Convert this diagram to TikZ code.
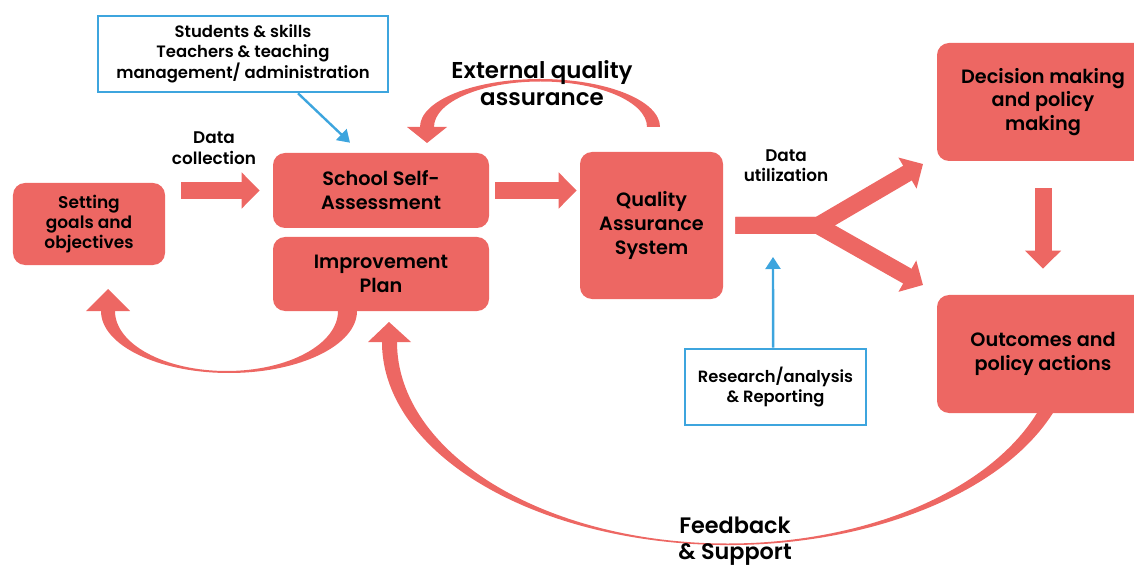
\documentclass[tikz,border=0pt]{standalone}
\usepackage{fontspec}
\setmainfont{Poppins SemiBold}
\usetikzlibrary{arrows.meta}
\definecolor{qared}{HTML}{ED6763}
\definecolor{qablue}{HTML}{3DA5DE}

\begin{document}
\begin{tikzpicture}[x=0.25mm,y=-0.25mm,
    redbox/.style={fill=qared, rounded corners=3mm, align=center, inner sep=0pt,
      font=\fontsize{13.7}{17}\selectfont},
    bluebox/.style={draw=qablue, line width=0.65mm, fill=white, align=center, inner sep=0pt,
      font=\fontsize{11.7}{14.2}\selectfont},
    fatarrow/.style={qared, line width=4.25mm, line join=miter,
      -{Triangle[width=8.75mm,length=4.5mm]}},
    bluearrow/.style={qablue, line width=0.6mm, -{Triangle[width=3.75mm,length=3mm]}},
    lbl/.style={align=center, inner sep=0pt}]
  \useasboundingbox (0,0) rectangle (1134,566);
  \clip (0,0) rectangle (1134,566);
  % curved arrows
  \fill[qared] (660,127) arc[start angle=0, end angle=-180, x radius=120, y radius=48]
    -- (434,127) arc[start angle=-180, end angle=0, x radius=106.5, y radius=45.5] -- cycle;
  \fill[qared] (407,127) -- (447,127) -- (427,143) -- cycle;
  \fill[qared] (357,311) arc[start angle=0, end angle=180, x radius=128, y radius=62]
    -- (115,311) arc[start angle=180, end angle=0, x radius=111.5, y radius=60] -- cycle;
  \fill[qared] (86,311) -- (130,311) -- (108,289) -- cycle;
  \fill[qared] (1052.9,413) arc[start angle=20.47, end angle=180, x radius=346.4, y radius=203]
    -- (397,342) arc[start angle=180, end angle=20.7, x radius=330.6, y radius=201.5] -- cycle;
  \fill[qared] (368,342) -- (411,342) -- (389,322) -- cycle;
  % boxes
  \node[redbox, minimum width=38mm, minimum height=20.5mm, font=\fontsize{12.1}{14.4}\selectfont]
    (goals) at (89,224) {Setting\\goals and\\objectives};
  \node[redbox, minimum width=54mm, minimum height=18.75mm] (ssa) at (381,190.5) {School Self-\\Assessment};
  \node[redbox, minimum width=54mm, minimum height=18.5mm] (plan) at (381,274) {Improvement\\Plan};
  \node[redbox, minimum width=35.75mm, minimum height=36.75mm] (qas) at (651.5,225.5) {Quality\\Assurance\\System};
  \node[redbox, minimum width=53mm, minimum height=29.5mm] (dec) at (1043,102) {Decision making\\and policy\\making};
  \node[redbox, minimum width=53mm, minimum height=29.5mm] (out) at (1043,354) {Outcomes and\\policy actions};
  \node[bluebox, minimum width=72.5mm, minimum height=19mm] (stk) at (243,54)
    {Students \& skills\\Teachers \& teaching\\management/ administration};
  \node[bluebox, minimum width=45.25mm, minimum height=19mm, font=\fontsize{11.6}{13.6}\selectfont]
    (res) at (775.5,387) {Research/analysis\\\& Reporting};
  % straight arrows
  \draw[fatarrow] ([xshift=4mm]ssa.west -| goals.east) -- ([xshift=-3.25mm]ssa.west);
  \draw[fatarrow] ([xshift=1.5mm]ssa.east) -- ([xshift=-0.75mm]ssa.east -| qas.west);
  \draw[fatarrow] ([yshift=-6.75mm]dec.south) -- ([yshift=6.5mm]out.north);
  \coordinate (fork) at (818,225.5);
  \coordinate (upend) at (923,164);
  \coordinate (downend) at (923,285);
  \draw[fatarrow] ([xshift=3mm]qas.east) -- (fork) -- (upend);
  \draw[fatarrow] ([xshift=3mm]qas.east) -- (fork) -- (downend);
  % blue arrows
  \coordinate (useend) at (773,257);
  \draw[bluearrow] ([xshift=13.75mm]stk.south) -- ([xshift=-7.75mm,yshift=2.5mm]ssa.north);
  \draw[bluearrow] ([xshift=-0.6mm]res.north) -- (useend);
  % labels
  \node[lbl, font=\fontsize{12}{14.9}\selectfont] (collect) at (214,148) {Data\\collection};
  \node[lbl, font=\fontsize{12}{14.2}\selectfont] (util) at (786,166) {Data\\utilization};
  \node[lbl, font=\fontsize{16.3}{19}\selectfont] (extqa) at (542,83) {External quality\\assurance};
  \node[lbl, font=\fontsize{15.9}{18.4}\selectfont] (feedback) at (735,541) {Feedback\\\& Support};
\end{tikzpicture}
\end{document}
